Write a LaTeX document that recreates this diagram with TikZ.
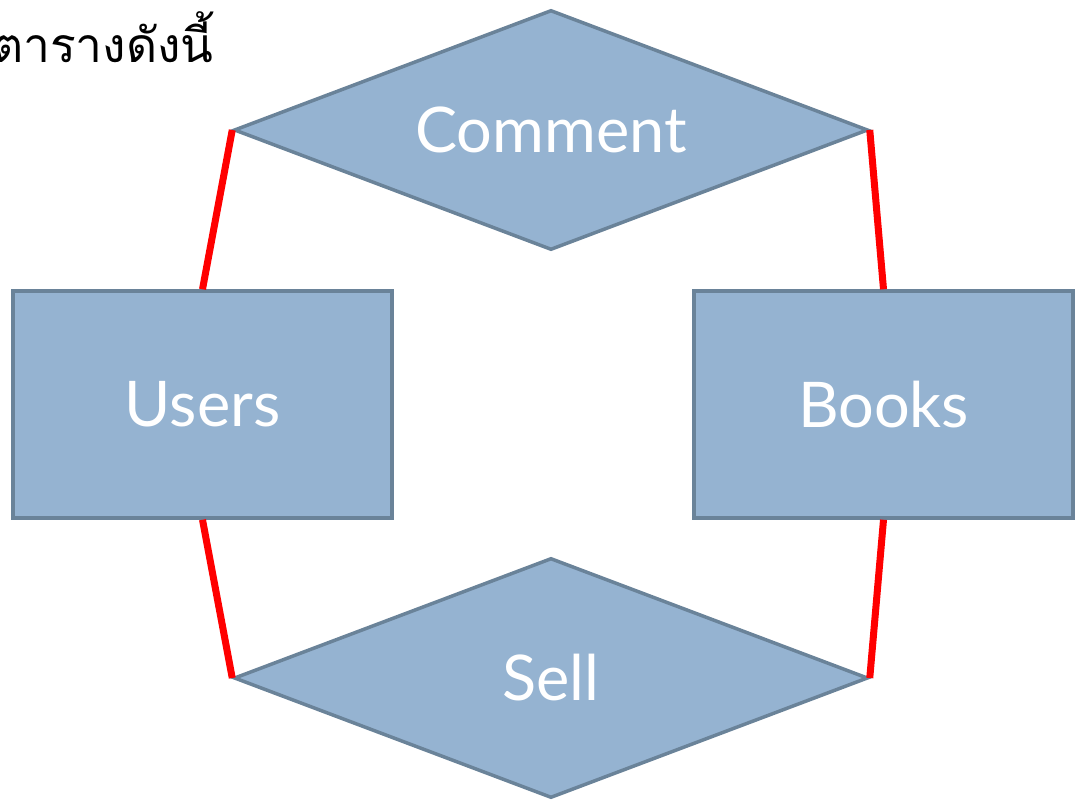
\documentclass[tikz,border=0pt]{standalone}
\usepackage{fontspec}
\setmainfont{Lato}
\newfontfamily\thaifont[Script=Thai]{Loma}
\usetikzlibrary{shapes.geometric}
\definecolor{boxfill}{HTML}{95B3D1}
\definecolor{boxdraw}{HTML}{6A8399}
\definecolor{linkred}{HTML}{FF0000}
\tikzset{
  entity/.style={rectangle, draw=boxdraw, fill=boxfill, line width=3.5pt,
    minimum width=379pt, minimum height=227pt, inner sep=0pt,
    text=white, font=\fontsize{63}{75}\selectfont},
  relation/.style={diamond, shape aspect=2.64, draw=boxdraw, fill=boxfill, line width=3.5pt,
    minimum width=634pt, minimum height=240pt, inner sep=0pt,
    text=white, font=\fontsize{63}{75}\selectfont},
  link/.style={draw=linkred, line width=7pt},
  caption/.style={inner sep=0pt, font=\thaifont\fontsize{48}{58}\selectfont}
}
\begin{document}
\begin{tikzpicture}[x=1pt,y=-1pt]
\useasboundingbox (0,0) rectangle (1078,800);
\clip (0,0) rectangle (1078,800);
\node[caption, anchor=base east] (title) at (214,63) {ตารางดังนี้};
\node[relation] (comment) at (551,130) {Comment};
\node[relation] (sell) at (551,678) {Sell};
\node[entity] (users) at (202.5,404.5) {Users};
\node[entity] (books) at (883.5,404.5) {Books};
\draw[link] (comment.west) -- (users.north);
\draw[link] (comment.east) -- (books.north);
\draw[link] (users.south) -- (sell.west);
\draw[link] (books.south) -- (sell.east);
\end{tikzpicture}
\end{document}
